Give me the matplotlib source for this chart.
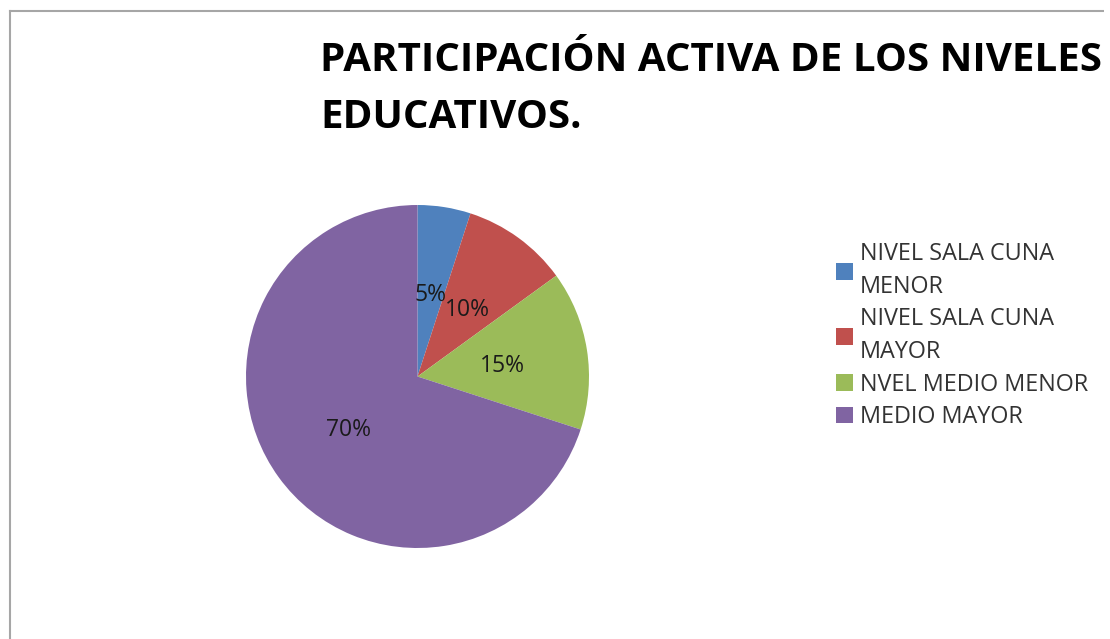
import matplotlib
matplotlib.use("Agg")
import matplotlib.pyplot as plt
from matplotlib.patches import Rectangle
from matplotlib.lines import Line2D

title = "PARTICIPACIÓN ACTIVA DE LOS NIVELES\nEDUCATIVOS."
categories = ["NIVEL SALA CUNA\nMENOR", "NIVEL SALA CUNA\nMAYOR", "NVEL MEDIO MENOR", "MEDIO MAYOR"]
values = [5, 10, 15, 70]
colors = ["#4F81BD", "#C0504D", "#9BBB59", "#8064A2"]

W, H = 1110, 639
fig = plt.figure(figsize=(W / 100, H / 100), dpi=100)
fig.patch.set_facecolor("white")

# chart border (left and top visible)
fig.add_artist(Line2D([9.5 / W, 9.5 / W], [0, 1 - 11 / H], transform=fig.transFigure,
                      color="#A6A6A6", lw=1.5))
fig.add_artist(Line2D([9.5 / W, 1104 / W], [1 - 11 / H, 1 - 11 / H], transform=fig.transFigure,
                      color="#A6A6A6", lw=1.5))

# pie
cx, cy, r = 417.5, 376.5, 171.5
ax = fig.add_axes([(cx - r) / W, 1 - (cy + r) / H, 2 * r / W, 2 * r / H])
wedges, texts, autotexts = ax.pie(
    values, colors=colors, startangle=90, counterclock=False,
    autopct=lambda p: f"{p:.0f}%", pctdistance=0.5, radius=1,
    textprops=dict(fontsize=16.5, color="#1a1a1a", family="Open Sans"),
)
for t in autotexts:
    t.set_va("center_baseline")
ax.set_xlim(-1, 1)
ax.set_ylim(-1, 1)
ax.axis("off")

# title
fig.text(320 / W, 1 - 128 / H, title, fontsize=29, fontweight="bold", family="Open Sans",
         color="black", ha="left", va="baseline", linespacing=1.6)

# legend
leg = fig.legend(wedges, categories, loc="upper left",
                 bbox_to_anchor=(836 / W, 1 - 242 / H), frameon=False,
                 prop=dict(family="Open Sans", size=16.8),
                 handlelength=0.73, handleheight=0.73, handletextpad=0.3,
                 labelspacing=0.36, borderpad=0, borderaxespad=0)
for t in leg.get_texts():
    t.set_color("#333333")
    t.set_linespacing(1.5)

# right strip clipping the title
fig.add_artist(Rectangle((1104 / W, 0), 6 / W, 1, transform=fig.transFigure,
                         facecolor="white", edgecolor="none", zorder=10))

fig.savefig("out.png", dpi=100)
